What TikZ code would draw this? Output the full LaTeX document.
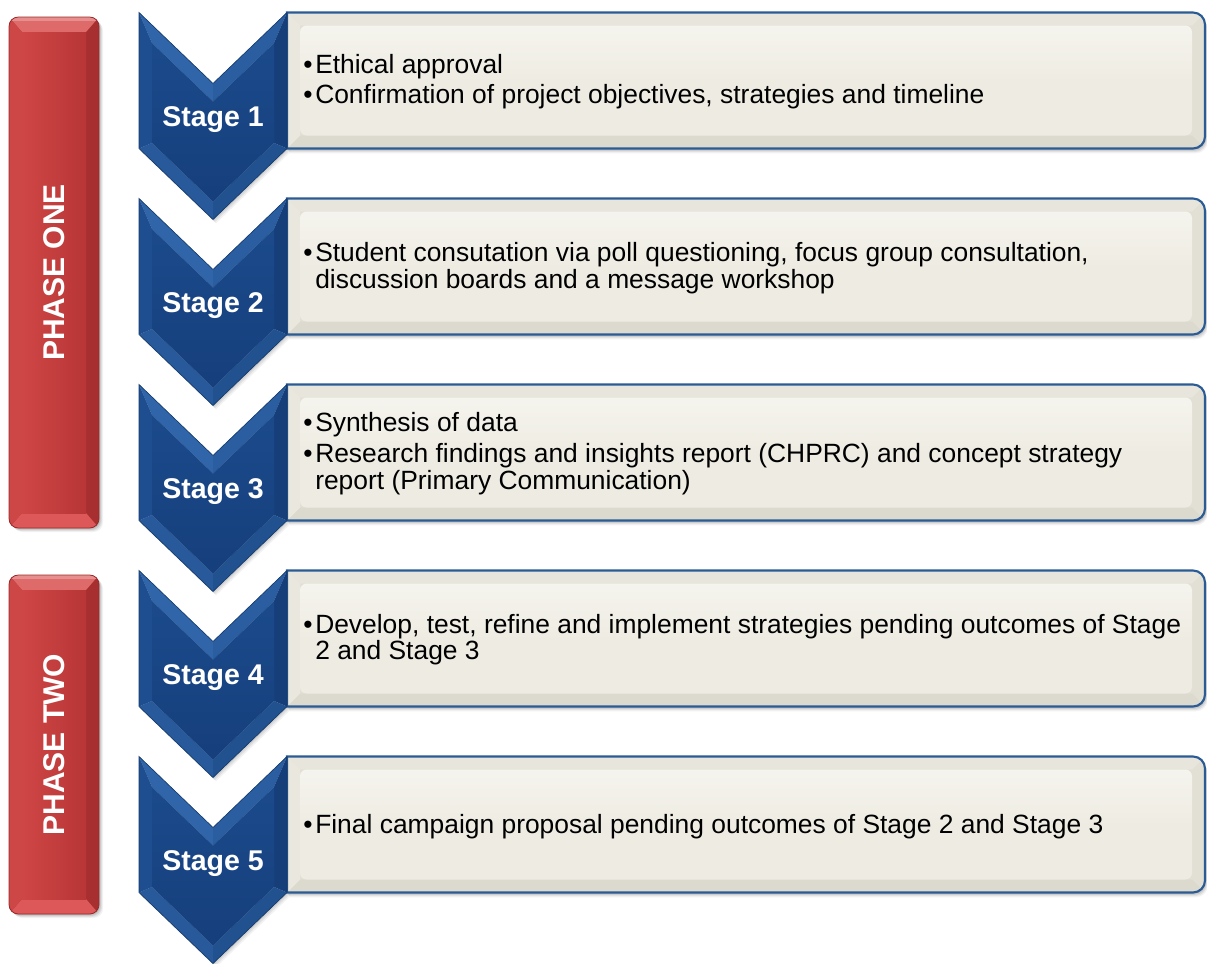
\documentclass[tikz,border=0pt]{standalone}
\usepackage{fontspec}
\setmainfont{Liberation Sans}
\usetikzlibrary{calc}

% palette
\definecolor{chevface}{HTML}{1B4A8B}
\definecolor{chevfaceb}{HTML}{163F7C}
\definecolor{chevtl}{HTML}{3066A9}
\definecolor{chevtr}{HTML}{2A5EA1}
\definecolor{chevr}{HTML}{163F7A}
\definecolor{chevbr}{HTML}{21518F}
\definecolor{chevbl}{HTML}{285A9B}
\definecolor{chevl}{HTML}{1E4E90}
\definecolor{chevedge}{HTML}{143A6C}
\definecolor{boxline}{HTML}{2A5B95}
\definecolor{boxface}{HTML}{EEECE2}
\definecolor{boxtop}{HTML}{E8E6DC}
\definecolor{boxleft}{HTML}{EAE8DE}
\definecolor{boxbot}{HTML}{DCDACF}
\definecolor{boxright}{HTML}{E2E0D5}
\definecolor{redface}{HTML}{C63E3E}
\definecolor{redfaceL}{HTML}{CF4646}
\definecolor{redfaceR}{HTML}{B83636}
\definecolor{redtop}{HTML}{DE6A69}
\definecolor{redbot}{HTML}{DD5858}
\definecolor{redleft}{HTML}{CD4747}
\definecolor{redright}{HTML}{A72F30}
\definecolor{rededge}{HTML}{9A2A2A}

\newlength{\pxu}\setlength{\pxu}{0.75pt}

% bullet paragraph with hanging indent
\newcommand\bitem[1]{\par\hangindent=9pt\hangafter=1\noindent\makebox[9pt][l]{\textbullet}#1}

\tikzset{
  stagelabel/.style={text=white,font=\bfseries\fontsize{21.4}{24}\selectfont,anchor=base,inner sep=0pt},
  phaselabel/.style={text=white,font=\bfseries\fontsize{22.5}{24}\selectfont,rotate=90,inner sep=0pt},
  bodytext/.style={anchor=base west,inner sep=0pt,text=black}
}

% outline of a content box: top y, bottom y
\newcommand\boxoutline[2]{(287,#1) -- (1193,#1) arc[start angle=-90,end angle=0,radius=12] -- (1205,#2-12) arc[start angle=0,end angle=90,radius=12] -- (287,#2) -- cycle}
% outline of a chevron with top y
\newcommand\chevoutline[1]{(139,#1) -- (213,#1+71) -- (287,#1) -- (287,#1+136) -- (213,#1+207) -- (139,#1+136) -- cycle}

\newcommand\content[1]{\begin{minipage}[t]{890\pxu}\raggedright\setlength{\parskip}{3pt}\fontsize{19.8}{20}\selectfont #1\end{minipage}}

\begin{document}
\begin{tikzpicture}[x=0.75pt,y=-0.75pt]
\useasboundingbox (0,0) rectangle (1207,964);

% ---------- phase bars ----------
\foreach \ya/\yb in {17/528,575/914}{
  \foreach \s/\o in {1/0.10,2/0.09,3/0.07,4/0.05}
    \fill[black,opacity=\o,rounded corners=7] (9+\s,\ya+\s) rectangle (99+\s,\yb+\s);
  \begin{scope}
    \clip[rounded corners=7] (9,\ya) rectangle (99,\yb);
    \fill[redright] (9,\ya) rectangle (99,\yb);
    \fill[redtop] (9,\ya) -- (99,\ya) -- (86,\ya+15) -- (22,\ya+15) -- cycle;
    \fill[redbot] (9,\yb) -- (99,\yb) -- (86,\yb-15) -- (22,\yb-15) -- cycle;
    \fill[redleft] (9,\ya) -- (22,\ya+15) -- (22,\yb-15) -- (9,\yb) -- cycle;
    \fill[white,opacity=0.25] (9,\ya) rectangle (99,\ya+4);
    \shade[left color=redfaceL,right color=redfaceR] (22,\ya+15) rectangle (86,\yb-15);
  \end{scope}
  \draw[rededge,line width=0.6pt,rounded corners=7] (9,\ya) rectangle (99,\yb);
}
\node[phaselabel] (phaseone) at (54,272.5) {PHASE ONE};
\node[phaselabel] (phasetwo) at (54,744.5) {PHASE TWO};

% ---------- stages ----------
\foreach \k in {0,...,4}{
  \pgfmathsetmacro\ya{12.5+186*\k}
  \pgfmathsetmacro\yb{\ya+136}
  % chevron shadow
  \foreach \s/\o in {1/0.08,2/0.07,3/0.05}
    \fill[black,opacity=\o,shift={(\s,\s*1.3)}] \chevoutline{\ya};
  % box shadow
  \foreach \s/\o in {1/0.10,2/0.09,3/0.07,4/0.05}
    \fill[black,opacity=\o,shift={(\s*0.7,\s*1.2)}] \boxoutline{\ya}{\yb};
  % box with bevel
  \begin{scope}
    \clip \boxoutline{\ya}{\yb};
    \fill[boxright] (287,\ya) rectangle (1205,\yb);
    \fill[boxtop] (287,\ya) -- (1205,\ya) -- (1192,\ya+13) -- (300,\ya+13) -- cycle;
    \fill[boxbot] (287,\yb) -- (1205,\yb) -- (1192,\yb-13) -- (300,\yb-13) -- cycle;
    \fill[boxleft] (287,\ya) -- (300,\ya+13) -- (300,\yb-13) -- (287,\yb) -- cycle;
    \shade[top color=boxface!60!white,bottom color=boxface,middle color=boxface,rounded corners=5] (300,\ya+13) rectangle (1192,\yb-13);
  \end{scope}
  \draw[boxline,line width=1.6pt] \boxoutline{\ya}{\yb};
  % chevron with bevel
  \fill[chevtl] (139,\ya) -- (213,\ya+71) -- (213,\ya+89) -- (152,\ya+30.5) -- cycle;
  \fill[chevtr] (213,\ya+71) -- (287,\ya) -- (274,\ya+30.5) -- (213,\ya+89) -- cycle;
  \fill[chevr] (287,\ya) -- (287,\ya+136) -- (274,\ya+130.5) -- (274,\ya+30.5) -- cycle;
  \fill[chevbr] (287,\ya+136) -- (213,\ya+207) -- (213,\ya+189) -- (274,\ya+130.5) -- cycle;
  \fill[chevbl] (213,\ya+207) -- (139,\ya+136) -- (152,\ya+130.5) -- (213,\ya+189) -- cycle;
  \fill[chevl] (139,\ya+136) -- (139,\ya) -- (152,\ya+30.5) -- (152,\ya+130.5) -- cycle;
  \shade[top color=chevface,bottom color=chevfaceb] (152,\ya+30.5) -- (213,\ya+89) -- (274,\ya+30.5) -- (274,\ya+130.5) -- (213,\ya+189) -- (152,\ya+130.5) -- cycle;
  \draw[chevedge,line width=0.5pt,line join=miter] \chevoutline{\ya};
}

% stage labels
\node[stagelabel] (s1) at (213,126.5) {Stage 1};
\node[stagelabel] (s2) at (213,312.5) {Stage 2};
\node[stagelabel] (s3) at (213,498.5) {Stage 3};
\node[stagelabel] (s4) at (213,684.5) {Stage 4};
\node[stagelabel] (s5) at (213,870.5) {Stage 5};

% stage contents
\node[bodytext] (t1) at (303,73.3) {\content{%
  \bitem{Ethical approval}
  \bitem{Confirmation of project objectives, strategies and timeline}}};
\node[bodytext] (t2) at (303,261.7) {\content{%
  \bitem{Student consutation via poll questioning, focus group consultation,\newline discussion boards and a message workshop}}};
\node[bodytext] (t3) at (303,431.7) {\content{%
  \bitem{Synthesis of data}
  \bitem{Research findings and insights report (CHPRC) and concept strategy\newline report (Primary Communication)}}};
\node[bodytext] (t4) at (303,633.3) {\content{%
  \bitem{Develop, test, refine and implement strategies pending outcomes of Stage\newline 2 and Stage 3}}};
\node[bodytext] (t5) at (303,833.3) {\content{%
  \bitem{Final campaign proposal pending outcomes of Stage 2 and Stage 3}}};

\end{tikzpicture}
\end{document}
